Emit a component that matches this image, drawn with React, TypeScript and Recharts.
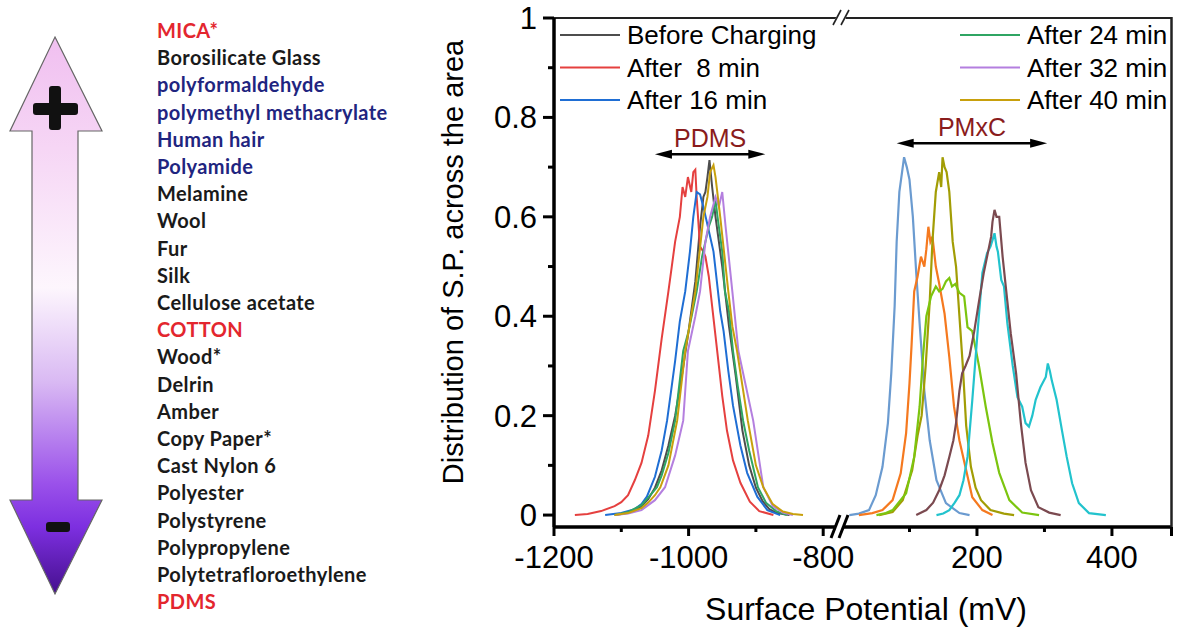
import React from "react";
import { LineChart, Line, XAxis, YAxis, ReferenceLine } from "recharts";

type Pair = [number, number];

// ---- PDMS side (legend series) ----
const PDMS_BEFORE: Pair[] = [[-1110,0],[-1100,0.002],[-1090,0.005],[-1080,0.01],[-1070,0.018],[-1060,0.032],[-1050,0.055],[-1040,0.09],[-1030,0.14],[-1020,0.2],[-1010,0.28],[-1000,0.37],[-990,0.47],[-983,0.58],[-978,0.64],[-975,0.65],[-972,0.68],[-969,0.714],[-965,0.66],[-960,0.6],[-950,0.5],[-940,0.38],[-930,0.28],[-920,0.17],[-910,0.1],[-900,0.055],[-890,0.028],[-880,0.012],[-870,0.005],[-860,0.002],[-850,0]];
const PDMS_8: Pair[] = [[-1169,0],[-1150,0.002],[-1130,0.008],[-1110,0.018],[-1100,0.026],[-1090,0.04],[-1080,0.07],[-1070,0.105],[-1060,0.16],[-1050,0.25],[-1040,0.355],[-1030,0.45],[-1025,0.5],[-1020,0.55],[-1013,0.6],[-1009,0.66],[-1005,0.64],[-1001,0.68],[-996,0.65],[-993,0.69],[-990,0.695],[-988,0.64],[-983,0.54],[-978,0.53],[-975,0.52],[-970,0.48],[-965,0.42],[-960,0.36],[-955,0.3],[-950,0.24],[-943,0.17],[-934,0.11],[-923,0.065],[-909,0.027],[-895,0.008],[-874,0]];
const PDMS_16: Pair[] = [[-1124,0],[-1100,0.004],[-1080,0.012],[-1070,0.022],[-1062,0.037],[-1050,0.077],[-1040,0.13],[-1032,0.19],[-1025,0.26],[-1020,0.31],[-1013,0.39],[-1005,0.45],[-998,0.53],[-993,0.6],[-988,0.65],[-983,0.645],[-978,0.62],[-973,0.59],[-963,0.53],[-958,0.47],[-953,0.41],[-948,0.37],[-941,0.29],[-934,0.22],[-923,0.14],[-913,0.085],[-898,0.037],[-883,0.01],[-864,0]];
const PDMS_24: Pair[] = [[-1110,0],[-1090,0.006],[-1070,0.02],[-1060,0.035],[-1047,0.056],[-1040,0.08],[-1030,0.125],[-1020,0.19],[-1008,0.33],[-1000,0.37],[-988,0.45],[-980,0.52],[-975,0.55],[-970,0.58],[-965,0.6],[-960,0.634],[-957,0.6],[-950,0.53],[-946,0.45],[-940,0.41],[-934,0.33],[-927,0.26],[-919,0.19],[-910,0.13],[-897,0.056],[-885,0.025],[-870,0.008],[-854,0]];
const PDMS_32: Pair[] = [[-1109,0],[-1090,0.003],[-1070,0.01],[-1050,0.03],[-1035,0.056],[-1020,0.12],[-1008,0.19],[-1001,0.33],[-990,0.4],[-983,0.45],[-975,0.55],[-968,0.6],[-960,0.64],[-955,0.62],[-950,0.65],[-945,0.58],[-935,0.45],[-926,0.33],[-915,0.26],[-904,0.19],[-889,0.056],[-875,0.018],[-860,0.005],[-845,0]];
const PDMS_40: Pair[] = [[-1110,0],[-1090,0.004],[-1070,0.014],[-1060,0.025],[-1050,0.04],[-1042,0.056],[-1030,0.1],[-1017,0.19],[-1005,0.33],[-990,0.45],[-978,0.6],[-972,0.64],[-968,0.69],[-963,0.704],[-960,0.68],[-953,0.6],[-941,0.45],[-935,0.38],[-928,0.33],[-920,0.26],[-912,0.19],[-900,0.1],[-889,0.056],[-875,0.022],[-860,0.007],[-845,0.002],[-830,0]];

// ---- PMxC side ----
const PMXC_A: Pair[] = [[11,0],[25,0.003],[40,0.01],[50,0.04],[60,0.097],[68,0.185],[73,0.285],[78,0.42],[81,0.55],[85,0.65],[89,0.69],[92,0.72],[96,0.7],[100,0.675],[105,0.6],[110,0.487],[115,0.386],[122,0.25],[130,0.15],[140,0.07],[154,0.024],[174,0.004],[189,0]];
const PMXC_B: Pair[] = [[25,0],[45,0.004],[60,0.01],[75,0.03],[87,0.084],[95,0.165],[100,0.265],[103,0.34],[107,0.45],[112,0.48],[117,0.52],[122,0.5],[125,0.535],[128,0.58],[131,0.55],[134,0.56],[139,0.5],[144,0.466],[152,0.405],[159,0.318],[166,0.218],[174,0.15],[184,0.09],[193,0.036],[208,0.01],[223,0]];
const PMXC_C: Pair[] = [[55,0],[75,0.006],[90,0.03],[104,0.09],[112,0.16],[118,0.2],[124,0.3],[130,0.43],[134,0.55],[139,0.65],[144,0.69],[147,0.66],[149,0.72],[152,0.7],[155,0.69],[159,0.65],[164,0.55],[169,0.5],[174,0.4],[179,0.3],[184,0.18],[191,0.097],[198,0.055],[206,0.03],[220,0.01],[240,0.003],[255,0]];
const PMXC_D: Pair[] = [[51,0],[65,0.004],[75,0.01],[95,0.044],[107,0.117],[115,0.218],[120,0.318],[125,0.4],[132,0.44],[139,0.46],[144,0.45],[149,0.455],[154,0.47],[159,0.477],[163,0.46],[168,0.465],[174,0.447],[181,0.44],[186,0.378],[193,0.37],[203,0.3],[213,0.218],[223,0.145],[233,0.085],[248,0.03],[267,0.005],[292,0]];
const PMXC_E: Pair[] = [[140,0],[150,0.003],[159,0.01],[167,0.025],[174,0.04],[180,0.07],[186,0.117],[193,0.23],[201,0.37],[208,0.487],[215,0.527],[220,0.54],[223,0.553],[226,0.567],[229,0.54],[231,0.53],[236,0.473],[240,0.46],[245,0.386],[253,0.3],[260,0.237],[267,0.218],[272,0.185],[277,0.178],[282,0.2],[287,0.232],[294,0.257],[302,0.278],[305,0.305],[308,0.29],[311,0.27],[318,0.232],[326,0.17],[333,0.117],[341,0.064],[351,0.024],[366,0.004],[391,0]];
const PMXC_F: Pair[] = [[110,0],[125,0.01],[135,0.025],[144,0.05],[152,0.08],[159,0.117],[165,0.15],[169,0.185],[174,0.25],[178,0.285],[183,0.3],[189,0.32],[196,0.37],[203,0.43],[210,0.487],[218,0.54],[221,0.56],[223,0.59],[226,0.614],[229,0.6],[233,0.6],[238,0.52],[245,0.43],[250,0.366],[258,0.285],[265,0.185],[272,0.105],[280,0.05],[291,0.016],[307,0.005],[324,0]];

const LEGEND_NAMES = ["Before Charging", "After  8 min", "After 16 min", "After 24 min", "After 32 min", "After 40 min"];
const PDMS_COLORS = ["#4d4d4d", "#e5403f", "#1f6ed4", "#2fa563", "#b47fdf", "#c8a00c"];
const PMXC_COLORS = ["#6b9bd0", "#f5791f", "#a29d05", "#7cc50f", "#22c3cd", "#7b4a50"];

const LEFT_X_DOMAIN: [number, number] = [-1200, -778];
const RIGHT_X_DOMAIN: [number, number] = [0, 489];
const Y_DOMAIN: [number, number] = [-0.024, 1];
const LEFT_X_TICKS = [-1200, -1100, -1000, -900, -800];
const RIGHT_X_TICKS = [100, 200, 300, 400];
const X_LABELS = [-1200, -1000, -800, 200, 400];
const Y_TICKS = [0, 0.1, 0.2, 0.3, 0.4, 0.5, 0.6, 0.7, 0.8, 0.9, 1];
const Y_LABELS = [0, 0.2, 0.4, 0.6, 0.8, 1];

const MATERIALS = ["MICA*", "Borosilicate Glass", "polyformaldehyde", "polymethyl methacrylate", "Human hair", "Polyamide", "Melamine", "Wool", "Fur", "Silk", "Cellulose acetate", "COTTON", "Wood*", "Delrin", "Amber", "Copy Paper*", "Cast Nylon 6", "Polyester", "Polystyrene", "Polypropylene", "Polytetrafloroethylene", "PDMS"];
const MATERIAL_COLORS = ["#e3262e", "#1a1a1a", "#1f2580", "#1f2580", "#1f2580", "#1f2580", "#1a1a1a", "#1a1a1a", "#1a1a1a", "#1a1a1a", "#1a1a1a", "#e3262e", "#1a1a1a", "#1a1a1a", "#1a1a1a", "#1a1a1a", "#1a1a1a", "#1a1a1a", "#1a1a1a", "#1a1a1a", "#1a1a1a", "#e3262e"];

const PDMS_SERIES = [PDMS_BEFORE, PDMS_8, PDMS_16, PDMS_24, PDMS_32, PDMS_40];
const PMXC_SERIES = [PMXC_A, PMXC_B, PMXC_C, PMXC_D, PMXC_E, PMXC_F];

const FONT = "'Liberation Sans', Arial, sans-serif";

const toPoints = (pairs: Pair[]) => pairs.map(([mv, v]) => ({ mv, v }));

function XTick(props: any) {
  const { x, y, payload } = props;
  const v = payload.value;
  const major = v % 200 === 0;
  return (
    <g>
      <line x1={x} x2={x} y1={y} y2={y + (major ? 9 : 5)} stroke="#000" strokeWidth={3} />
      {X_LABELS.includes(v) ? (
        <text x={x} y={y + 41} textAnchor="middle" fontSize={31} fill="#000" fontFamily={FONT}>
          {v}
        </text>
      ) : null}
    </g>
  );
}

function YTick(props: any) {
  const { x, y, payload } = props;
  const v = payload.value;
  const major = Y_LABELS.some((l) => Math.abs(l - v) < 1e-9);
  return (
    <g>
      <line x1={x - (major ? 11 : 6)} x2={x} y1={y} y2={y} stroke="#000" strokeWidth={3} />
      {major ? (
        <text x={x - 17} y={y + 11} textAnchor="end" fontSize={31} fill="#000" fontFamily={FONT}>
          {String(v)}
        </text>
      ) : null}
    </g>
  );
}

function DoubleArrow(props: any) {
  const { x1, y1, x2 } = props;
  const h = 17;
  const w = 4.5;
  return (
    <g>
      <line x1={x1 + h - 3} y1={y1} x2={x2 - h + 3} y2={y1} stroke="#000" strokeWidth={2.5} />
      <polygon points={`${x1},${y1} ${x1 + h},${y1 - w} ${x1 + h},${y1 + w}`} fill="#000" />
      <polygon points={`${x2},${y1} ${x2 - h},${y1 - w} ${x2 - h},${y1 + w}`} fill="#000" />
    </g>
  );
}

function LegendRow({ x, y, name, color }: { x: number; y: number; name: string; color: string }) {
  return (
    <g>
      <line x1={x} x2={x + 60} y1={y} y2={y} stroke={color} strokeWidth={2.2} />
      <text x={x + 67} y={y + 9} fontSize={26} fill="#000" fontFamily={FONT} style={{ whiteSpace: "pre" }}>
        {name}
      </text>
    </g>
  );
}

export default function App() {
  const bottomAxis = { stroke: "#000", strokeWidth: 3.5 };
  return (
    <div style={{ position: "absolute", left: 0, top: 0, width: 1182, height: 628, background: "#fff", fontFamily: FONT }}>
      {/* PDMS part of the broken axis */}
      <div style={{ position: "absolute", left: 440, top: 0 }}>
        <LineChart width={460} height={628} margin={{ top: 18, right: 62, bottom: 0, left: 0 }}>
          <XAxis
            dataKey="mv"
            type="number"
            domain={LEFT_X_DOMAIN}
            allowDataOverflow
            ticks={LEFT_X_TICKS}
            interval={0}
            height={101}
            tickSize={0}
            tickMargin={0}
            tickLine={false}
            axisLine={bottomAxis}
            tick={<XTick />}
          />
          <YAxis
            type="number"
            domain={Y_DOMAIN}
            allowDataOverflow
            ticks={Y_TICKS}
            interval={0}
            width={114}
            tickSize={0}
            tickMargin={0}
            tickLine={false}
            axisLine={{ stroke: "#000", strokeWidth: 3.5 }}
            tick={<YTick />}
          />
          <ReferenceLine y={1} stroke="#222" strokeWidth={2} />
          {PDMS_SERIES.map((s, i) => (
            <Line
              key={LEGEND_NAMES[i]}
              name={LEGEND_NAMES[i]}
              data={toPoints(s)}
              dataKey="v"
              type="linear"
              stroke={PDMS_COLORS[i]}
              strokeWidth={2}
              dot={false}
              activeDot={false}
              isAnimationActive={false}
            />
          ))}
          <ReferenceLine
            segment={[{ x: -1050, y: 0.726 }, { x: -886, y: 0.726 }]}
            shape={<DoubleArrow />}
            label={{ value: "PDMS", position: "top", offset: 7, fill: "#8a1c1c", fontSize: 25, fontFamily: FONT }}
          />
        </LineChart>
      </div>

      {/* PMxC part of the broken axis */}
      <div style={{ position: "absolute", left: 842, top: 0 }}>
        <LineChart width={330} height={628} margin={{ top: 18, right: 0, bottom: 0, left: 0 }}>
          <XAxis
            dataKey="mv"
            type="number"
            domain={RIGHT_X_DOMAIN}
            allowDataOverflow
            ticks={RIGHT_X_TICKS}
            interval={0}
            height={101}
            tickSize={0}
            tickMargin={0}
            tickLine={false}
            axisLine={bottomAxis}
            tick={<XTick />}
          />
          <YAxis type="number" domain={Y_DOMAIN} allowDataOverflow hide width={0} />
          <ReferenceLine y={1} stroke="#222" strokeWidth={2} />
          {PMXC_SERIES.map((s, i) => (
            <Line
              key={"pmxc" + i}
              data={toPoints(s)}
              dataKey="v"
              type="linear"
              stroke={PMXC_COLORS[i]}
              strokeWidth={2.2}
              dot={false}
              activeDot={false}
              isAnimationActive={false}
            />
          ))}
          <ReferenceLine
            segment={[{ x: 81, y: 0.748 }, { x: 304, y: 0.748 }]}
            shape={<DoubleArrow />}
            label={{ value: "PMxC", position: "top", offset: 7, fill: "#8a1c1c", fontSize: 25, fontFamily: FONT }}
          />
        </LineChart>
      </div>

      {/* overlay: triboelectric series, labels, legend, frame, axis breaks */}
      <svg width={1182} height={628} style={{ position: "absolute", left: 0, top: 0, pointerEvents: "none" }}>
        <defs>
          <linearGradient id="tribo" x1="0" y1="37" x2="0" y2="594" gradientUnits="userSpaceOnUse">
            <stop offset="0" stopColor="#f0bff0" />
            <stop offset="0.2" stopColor="#f6d6f5" />
            <stop offset="0.45" stopColor="#fdf6fd" />
            <stop offset="0.62" stopColor="#d9b9f3" />
            <stop offset="0.8" stopColor="#9b52ea" />
            <stop offset="0.88" stopColor="#7d2fe0" />
            <stop offset="1" stopColor="#45108e" />
          </linearGradient>
        </defs>
        <path
          d="M55,37 L102,131 L78,131 L78,500 L102,500 L55,594 L10,500 L32,500 L32,131 L10,131 Z"
          fill="url(#tribo)"
          stroke="#666"
          strokeWidth={1.2}
        />
        <rect x={33} y={103} width={45} height={12} rx={3} fill="#111" />
        <rect x={49} y={86} width={12} height={44} rx={3} fill="#111" />
        <rect x={46} y={522} width={24} height={10} rx={3} fill="#111" />
        {MATERIALS.map((m, i) => (
          <text
            key={m}
            x={157}
            y={38 + 27.2 * i}
            fontSize={20}
            fontWeight={700}
            letterSpacing={0.4}
            fontFamily="Lato, 'Open Sans', sans-serif"
            fill={MATERIAL_COLORS[i]}
          >
            {m}
          </text>
        ))}

        <text transform="translate(463,262) rotate(-90)" textAnchor="middle" fontSize={29} fill="#000" fontFamily={FONT}>
          Distribution of S.P. across the area
        </text>
        <text x={866} y={620} textAnchor="middle" fontSize={32} fill="#000" fontFamily={FONT}>
          Surface Potential (mV)
        </text>

        {LEGEND_NAMES.map((n, i) => (
          <LegendRow key={n} x={i < 3 ? 560 : 960} y={35 + 32.5 * (i % 3)} name={n} color={PDMS_COLORS[i]} />
        ))}

        {/* right frame edge with its end tick */}
        <line x1={1171.5} y1={17} x2={1171.5} y2={528} stroke="#222" strokeWidth={2.5} />
        <line x1={1171.5} y1={527} x2={1171.5} y2={536} stroke="#000" strokeWidth={3} />

        {/* axis breaks */}
        <polygon points="831,541 841,512 849,512 839,541" fill="#fff" />
        <line x1={831} y1={538} x2={840} y2={515} stroke="#000" strokeWidth={3} />
        <line x1={839} y1={538} x2={848} y2={515} stroke="#000" strokeWidth={3} />
        <polygon points="832,27 840,8 850,8 842,27" fill="#fff" />
        <line x1={833} y1={25} x2={841} y2={10} stroke="#222" strokeWidth={1.6} />
        <line x1={841} y1={25} x2={849} y2={10} stroke="#222" strokeWidth={1.6} />
      </svg>
    </div>
  );
}
